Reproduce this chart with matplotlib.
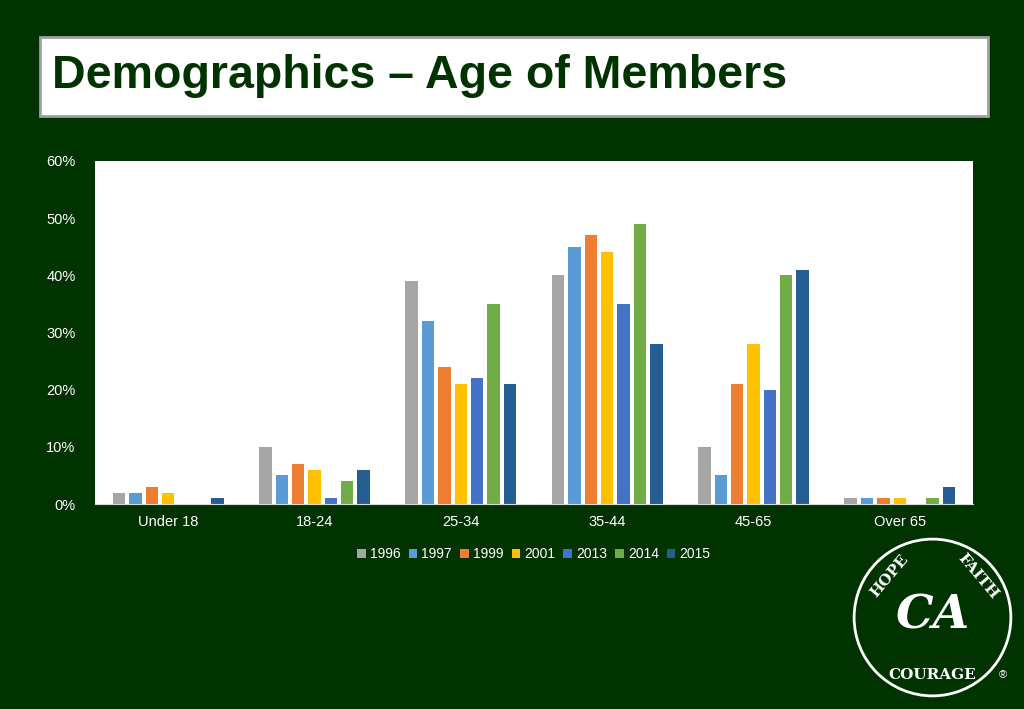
import matplotlib
matplotlib.use("Agg")
import matplotlib.pyplot as plt
import numpy as np
from matplotlib.patches import Rectangle, Circle

plt.rcParams["font.family"] = "Liberation Sans"

categories = ["Under 18", "18-24", "25-34", "35-44", "45-65", "Over 65"]
years = ["1996", "1997", "1999", "2001", "2013", "2014", "2015"]
values = {
    "1996": [2, 10, 39, 40, 10, 1],
    "1997": [2, 5, 32, 45, 5, 1],
    "1999": [3, 7, 24, 47, 21, 1],
    "2001": [2, 6, 21, 44, 28, 1],
    "2013": [0, 1, 22, 35, 20, 0],
    "2014": [0, 4, 35, 49, 40, 1],
    "2015": [1, 6, 21, 28, 41, 3],
}
colors = ["#A5A5A5", "#5B9BD5", "#ED7D31", "#FFC000", "#4472C4", "#70AD47", "#255E91"]
yticks = [0, 10, 20, 30, 40, 50, 60]

W, H = 1024, 709
fig = plt.figure(figsize=(W/100, H/100), dpi=100)
fig.patch.set_facecolor("#003300")

fig.patches.append(Rectangle((40/W, 1-116/H), 948/W, 79/H, transform=fig.transFigure,
                             facecolor="white", edgecolor="#A0A0A0", linewidth=2))
fig.text(52/W, 1-76/H, "Demographics \u2013 Age of Members", fontsize=33.5, fontweight="bold",
         color="#003300", va="center", ha="left")

ax = fig.add_axes([95/W, 1-504/H, 878/W, 343/H])
ax.set_facecolor("white")
x = np.arange(len(categories))
bw = 0.085
for i, (yr, c) in enumerate(zip(years, colors)):
    ax.bar(x + (i-3)*0.112, values[yr], width=bw, color=c, label=yr)
ax.set_xlim(-0.5, len(categories)-0.5)
ax.set_ylim(0, 60)
ax.set_yticks(yticks)
ax.set_yticklabels([f"{t}%" for t in yticks])
ax.set_xticks(x)
ax.set_xticklabels(categories)
ax.tick_params(colors="white", labelsize=10.5, length=0)
ax.tick_params(axis="y", pad=14)
ax.tick_params(axis="x", pad=8)
for s in ["top", "right", "left"]:
    ax.spines[s].set_visible(False)
ax.spines["bottom"].set_color("#D9D9D9")
leg = ax.legend(loc="upper center", bbox_to_anchor=(0.5, -0.09), ncol=7, frameon=False,
                fontsize=10, handlelength=0.6, handleheight=0.6, columnspacing=0.6, handletextpad=0.3)
for t in leg.get_texts():
    t.set_color("white")

lx = fig.add_axes([850/W, 1-700/H, 165/W, 165/H])
lx.set_xlim(-1, 1); lx.set_ylim(-1, 1); lx.axis("off"); lx.set_aspect("equal")
lx.add_patch(Circle((0, 0), 0.95, facecolor="#003300", edgecolor="white", linewidth=2))
lx.text(0, 0.02, "CA", color="white", fontsize=34, fontweight="bold", ha="center", va="center",
        family="DejaVu Serif", style="italic")
lx.text(-0.52, 0.5, "HOPE", color="white", fontsize=11, rotation=50, ha="center", va="center",
        family="DejaVu Serif", fontweight="bold")
lx.text(0.55, 0.5, "FAITH", color="white", fontsize=11, rotation=-50, ha="center", va="center",
        family="DejaVu Serif", fontweight="bold")
lx.text(0, -0.7, "COURAGE", color="white", fontsize=11, ha="center", va="center",
        family="DejaVu Serif", fontweight="bold")
fig.text(1003/W, 1-675/H, "\u00ae", color="white", fontsize=8, ha="center", va="center")

fig.savefig("out.png", dpi=100, facecolor=fig.get_facecolor())
